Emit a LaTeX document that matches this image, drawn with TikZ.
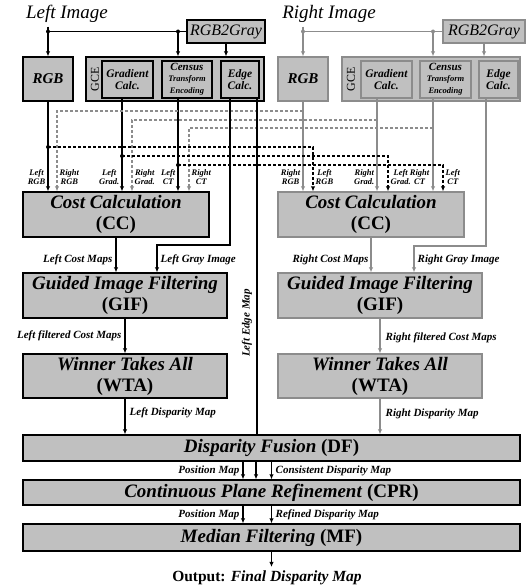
\documentclass[tikz,border=0pt]{standalone}
\usepackage{fontspec}
\setmainfont{Liberation Serif}
\usetikzlibrary{arrows.meta,positioning}
\definecolor{boxgray}{HTML}{C0C0C0}
\definecolor{rline}{HTML}{8C8C8C}

\begin{document}
\begin{tikzpicture}[x=1pt,y=-1pt,line width=1.4pt,
  >={Latex[length=5pt,width=4.5pt]},
  blk/.style={draw,fill=boxgray,inner sep=0pt,align=center},
  rblk/.style={blk,draw=rline},
  big/.style={font=\fontsize{19}{21}\selectfont\bfseries},
  small/.style={font=\fontsize{11.5}{12.5}\selectfont\bfseries\itshape},
  census/.style={font=\bfseries\itshape},
  lbl/.style={font=\fontsize{11}{12}\selectfont\bfseries\itshape,inner sep=1pt},
  tiny/.style={font=\fontsize{8.5}{9}\selectfont\bfseries\itshape,inner sep=0pt,align=center},
  rln/.style={rline},
  ldash/.style={dash pattern=on 3pt off 2pt},
  rdash/.style={rline,line width=1.1pt,dash pattern=on 3pt off 2pt},
  jdot/.style={circle,fill,inner sep=0pt,minimum size=4pt}
]
\useasboundingbox (0,0) rectangle (525,586);

% inputs
\node[font=\fontsize{19}{21}\selectfont\itshape] (limg) at (67,14) {Left Image};
\node[font=\fontsize{19}{21}\selectfont\itshape] (rimg) at (329,14) {Right Image};
\node[blk,minimum width=78,minimum height=23,font=\fontsize{16}{17}\selectfont\itshape] (lgray) at (226,31.5) {RGB2Gray};
\node[rblk,minimum width=82,minimum height=23,font=\fontsize{16}{17}\selectfont\itshape] (rgray) at (484,31.5) {RGB2Gray};

% left feature blocks
\node[blk,minimum width=50,minimum height=44,font=\fontsize{15}{16}\selectfont\bfseries\itshape] (lrgb) at (48,79) {RGB};
\node[blk,minimum width=178,minimum height=44] (lgce) at (175,79) {};
\node[rotate=90,font=\fontsize{12}{13}\selectfont] (lgcet) at (95,79) {GCE};
\node[blk,small,minimum width=51,minimum height=37] (lgrad) at (127.5,79.5) {Gradient\\Calc.};
\node[blk,census,minimum width=50,minimum height=37] (lcen) at (187,79.5) {\fontsize{11}{12}\selectfont Census\\[-1pt]\fontsize{8.5}{9}\selectfont Transform\\\fontsize{8.5}{9}\selectfont Encoding};
\node[blk,small,minimum width=38,minimum height=37] (ledge) at (240,79.5) {Edge\\Calc.};

% right feature blocks
\node[rblk,minimum width=50,minimum height=44,font=\fontsize{15}{16}\selectfont\bfseries\itshape] (rrgb) at (303,79) {RGB};
\node[rblk,minimum width=178,minimum height=44] (rgce) at (431,79) {};
\node[rotate=90,font=\fontsize{12}{13}\selectfont] (rgcet) at (351,79) {GCE};
\node[rblk,small,minimum width=51,minimum height=37] (rgrad) at (386.5,79.5) {Gradient\\Calc.};
\node[rblk,census,minimum width=51,minimum height=37] (rcen) at (445.5,79.5) {\fontsize{11}{12}\selectfont Census\\[-1pt]\fontsize{8.5}{9}\selectfont Transform\\\fontsize{8.5}{9}\selectfont Encoding};
\node[rblk,small,minimum width=39,minimum height=37] (redge) at (498.5,79.5) {Edge\\Calc.};

% processing blocks
\node[blk,big,minimum width=186,minimum height=45] (lcc) at (116,214.5) {\itshape Cost Calculation\\(CC)};
\node[rblk,big,minimum width=186,minimum height=45] (rcc) at (371,214.5) {\itshape Cost Calculation\\(CC)};
\node[blk,big,minimum width=204,minimum height=45] (lgif) at (125,295.5) {\itshape Guided Image Filtering\\(GIF)};
\node[rblk,big,minimum width=204,minimum height=45] (rgif) at (380,295.5) {\itshape Guided Image Filtering\\(GIF)};
\node[blk,big,minimum width=204,minimum height=44] (lwta) at (125,376) {\itshape Winner Takes All\\(WTA)};
\node[rblk,big,minimum width=204,minimum height=44] (rwta) at (380,376) {\itshape Winner Takes All\\(WTA)};
\node[blk,big,minimum width=497,minimum height=26] (df) at (271.5,448) {\textit{Disparity Fusion} (DF)};
\node[blk,big,minimum width=497,minimum height=25] (cpr) at (271.5,492.5) {\textit{Continuous Plane Refinement} (CPR)};
\node[blk,big,minimum width=497,minimum height=27] (mf) at (271.5,537.5) {\textit{Median Filtering} (MF)};
\node[font=\fontsize{15.5}{17}\selectfont\bfseries] (out) at (267,578) {Output: \textit{Final Disparity Map}};

% tap points
\coordinate (lgo) at ([xshift=-5.5pt]lgrad.south);
\coordinate (lco) at ([xshift=-9pt]lcen.south);
\coordinate (lci) at ([xshift=-9pt]lcen.north);
\coordinate (leo) at ([xshift=-10pt]ledge.south);
\coordinate (lem) at ([xshift=17pt]ledge.south);
\coordinate (rgo) at ([xshift=-9.5pt]rgrad.south);
\coordinate (rco) at ([xshift=-12.5pt]rcen.south);
\coordinate (rci) at ([xshift=-12.5pt]rcen.north);
\coordinate (reo) at ([xshift=-12.5pt]redge.south);

% image inputs
\draw[->] (lrgb.north |- limg.south) -- (lrgb.north);
\draw (lrgb.north |- lgray.west) -- (lgray.west);
\draw[->] (lci |- lgray.west) -- (lci |- lgce.north);
\draw[->] (lgray.south) -- (lgray.south |- lgce.north);
\node[jdot] at (lrgb.north |- lgray.west) {};
\node[jdot] at (lci |- lgray.west) {};
\draw[rln,->] (rrgb.north |- rimg.south) -- (rrgb.north);
\draw[rln] (rrgb.north |- rgray.west) -- (rgray.west);
\draw[rln,->] (rci |- rgray.west) -- (rci |- rgce.north);
\draw[rln,->] (rgray.south) -- (rgray.south |- rgce.north);
\node[jdot,rline] at (rrgb.north |- rgray.west) {};
\node[jdot,rline] at (rci |- rgray.west) {};

% features to cost calculation
\draw[->] (lrgb.south) -- (lrgb.south |- lcc.north);
\draw[->] (lgo) -- (lgo |- lcc.north);
\draw[->] (lco) -- (lco |- lcc.north);
\draw[rln,->] (rrgb.south) -- (rrgb.south |- rcc.north);
\draw[rln,->] (rgo) -- (rgo |- rcc.north);
\draw[rln,->] (rco) -- (rco |- rcc.north);

% right features crossing to the left CC
\coordinate (g1) at (57,111);
\coordinate (g2) at (132,120);
\coordinate (g3) at (189,128);
\draw[rdash,->] (rrgb.south |- g1) -- (g1) -- (g1 |- lcc.north);
\draw[rdash,->] (rgo |- g2) -- (g2) -- (g2 |- lcc.north);
\draw[rdash,->] (rco |- g3) -- (g3) -- (g3 |- lcc.north);

% left features crossing to the right CC
\coordinate (k1) at (313,147);
\coordinate (k2) at (388,156);
\coordinate (k3) at (443,165);
\draw[ldash,->] (lrgb.south |- k1) -- (k1) -- (k1 |- rcc.north);
\draw[ldash,->] (lgo |- k2) -- (k2) -- (k2 |- rcc.north);
\draw[ldash,->] (lco |- k3) -- (k3) -- (k3 |- rcc.north);
\node[jdot] at (lrgb.south |- k1) {};
\node[jdot] at (lgo |- k2) {};
\node[jdot] at (lco |- k3) {};

\node[tiny,anchor=east] (t1) at (46,177) {Left\\RGB};
\node[tiny,anchor=west] (t2) at (59,177) {Right\\RGB};
\node[tiny,anchor=east] (t3) at (120,177) {Left\\Grad.};
\node[tiny,anchor=west] (t4) at (134,177) {Right\\Grad.};
\node[tiny,anchor=east] (t5) at (176,177) {Left\\CT};
\node[tiny,anchor=west] (t6) at (191,177) {Right\\CT};
\node[tiny,anchor=east] (t7) at (301,177) {Right\\RGB};
\node[tiny,anchor=west] (t8) at (315,177) {Left\\RGB};
\node[tiny,anchor=east] (t9) at (375,177) {Right\\Grad.};
\node[tiny,anchor=west] (t10) at (390,177) {Left\\Grad.};
\node[tiny,anchor=east] (t11) at (430,177) {Right\\CT};
\node[tiny,anchor=west] (t12) at (445,177) {Left\\CT};

% gray image and edge map
\coordinate (lgt) at (157,245);
\coordinate (rgt) at (414,246);
\draw[->] (leo) |- (lgt) -- (lgt |- lgif.north);
\draw[rln,->] (reo) |- (rgt) -- (rgt |- rgif.north);
\draw (lem) -- (lem |- df.north);
\node[lbl,rotate=90] (lemt) at (247,323) {Left Edge Map};

% main chain
\draw[->] (lcc.south) -- (lcc.south |- lgif.north);
\draw[rln,->] (rcc.south) -- (rcc.south |- rgif.north);
\draw[->] (lgif.south) -- (lwta.north);
\draw[rln,->] (rgif.south) -- (rwta.north);
\draw[->] (lwta.south) -- (lwta.south |- df.north);
\draw[rln,->] (rwta.south) -- (rwta.south |- df.north);
\node[lbl,anchor=east] (l1) at (114,260) {Left Cost Maps};
\node[lbl,anchor=west] (l2) at (159,260) {Left Gray Image};
\node[lbl,anchor=east] (l3) at (370,260) {Right Cost Maps};
\node[lbl,anchor=west] (l4) at (416,260) {Right Gray Image};
\node[lbl,anchor=east] (l5) at (123,336) {Left filtered Cost Maps};
\node[lbl,anchor=west] (l6) at (384,338) {Right filtered Cost Maps};
\node[lbl,anchor=west] (l7) at (128,413) {Left Disparity Map};
\node[lbl,anchor=west] (l8) at (384,414) {Right Disparity Map};

% fusion and refinement
\coordinate (pa) at ([xshift=-28.5pt]df.south);
\coordinate (pb) at ([xshift=-15.5pt]df.south);
\coordinate (qa) at ([xshift=-28.5pt]cpr.south);
\draw[->] (pa) -- (pa |- cpr.north);
\draw[->] (pb) -- (pb |- cpr.north);
\draw[->] (df.south) -- (cpr.north);
\draw[->] (qa) -- (qa |- mf.north);
\draw[->] (cpr.south) -- (mf.north);
\draw[->] (mf.south) -- (mf.south |- out.north);
\node[lbl,anchor=east] (m1) at (241,471) {Position Map};
\node[lbl,anchor=west] (m2) at (274,471) {Consistent Disparity Map};
\node[lbl,anchor=east] (m3) at (241,515) {Position Map};
\node[lbl,anchor=west] (m4) at (274,515) {Refined Disparity Map};
\end{tikzpicture}
\end{document}
